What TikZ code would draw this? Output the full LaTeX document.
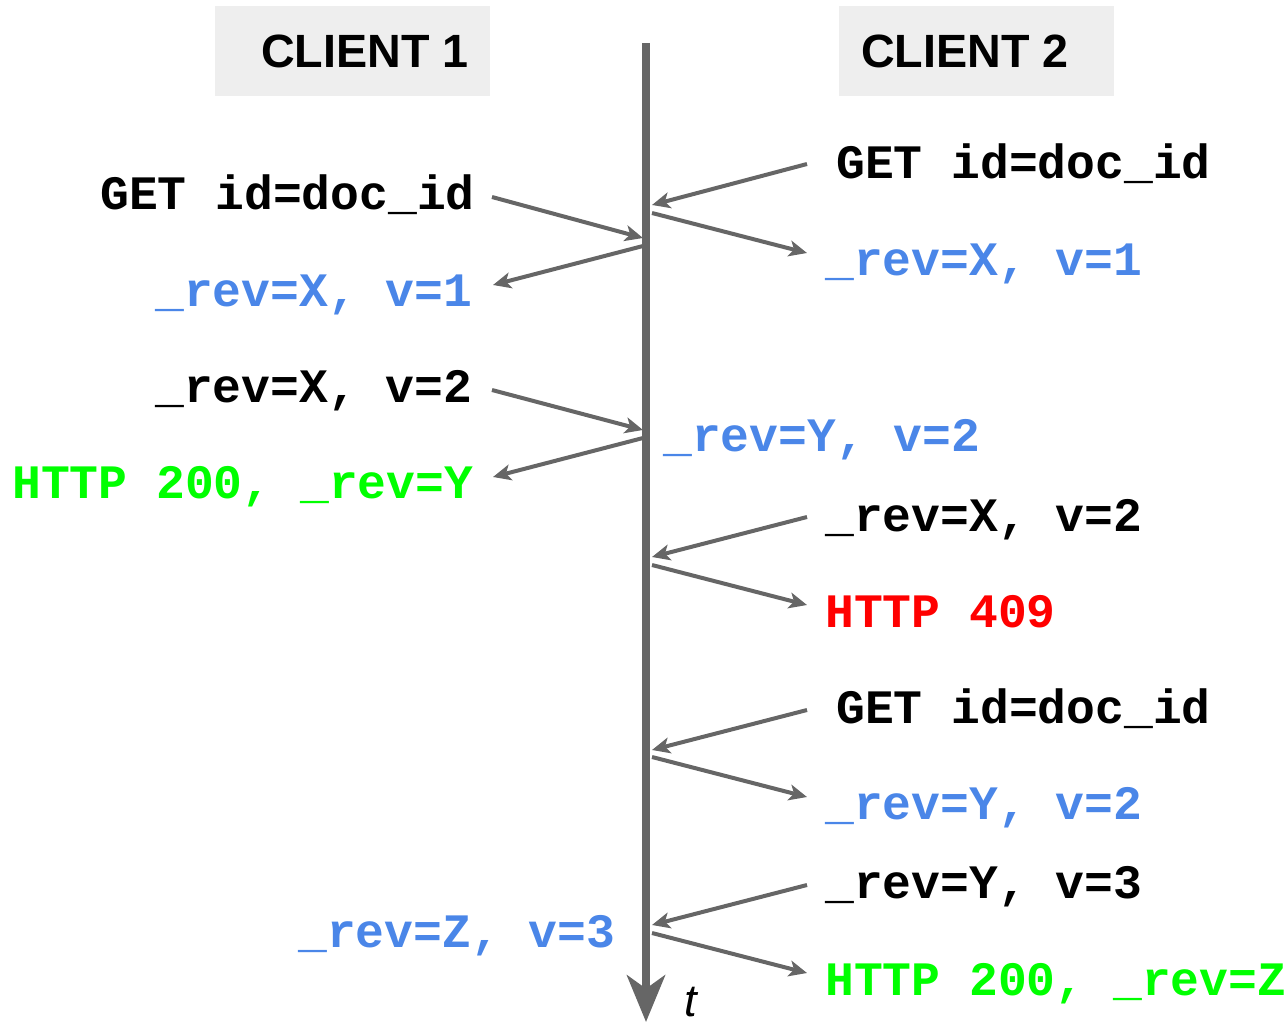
\documentclass[tikz,border=0pt]{standalone}
\usepackage{fontspec}
\usetikzlibrary{arrows.meta}
\newfontfamily\msgfont{Liberation Mono}[BoldFont={* Bold}]
\newfontfamily\hdrfont{Liberation Sans}[BoldFont={* Bold}]
\definecolor{lineg}{HTML}{666666}
\definecolor{hdrbg}{HTML}{EEEEEE}
\definecolor{revblue}{HTML}{4A86E8}
\definecolor{okgreen}{HTML}{00FF00}
\definecolor{errred}{HTML}{FF0000}
\tikzset{
  hdrbox/.style={fill=hdrbg, draw=none, minimum width=206.25pt, minimum height=67.5pt, inner sep=0pt},
  hdrtext/.style={font=\hdrfont\bfseries\fontsize{35}{40}\selectfont, inner sep=0pt},
  msg/.style={font=\msgfont\bfseries\fontsize{36}{40}\selectfont, inner sep=0pt, anchor=base west},
  req/.style={msg, text=black},
  rev/.style={msg, text=revblue},
  ok/.style={msg, text=okgreen},
  err/.style={msg, text=errred},
  flow/.style={draw=lineg, line width=3pt, -{Stealth[length=13.5pt, width=12pt, inset=3.5pt]}},
  timeline/.style={draw=lineg, line width=6pt, -{Stealth[length=35pt, width=28.5pt, inset=10pt]}}
}
\begin{document}
\begin{tikzpicture}[x=0.75pt, y=-0.75pt]
\useasboundingbox (0,0) rectangle (1287,1024);

% column headers
\node[hdrbox] (c1box) at (352.5,51) {};
\node[hdrtext] (c1) at (365,51) {CLIENT 1};
\node[hdrbox] (c2box) at (976.5,51) {};
\node[hdrtext] (c2) at (965,51) {CLIENT 2};

% time axis
\coordinate (ttop) at (646,43);
\coordinate (tbot) at (646,1022);
\draw[timeline] (ttop) -- (tbot);
\node[font=\hdrfont\itshape\fontsize{34}{40}\selectfont, inner sep=0pt, anchor=base west] (tlab) at (684,1016) {t};

% client 1 messages
\node[req] (l1) at (100,209) {GET id=doc\_id};
\node[rev] (l2) at (155,306) {\_rev=X, v=1};
\node[req] (l3) at (155,402) {\_rev=X, v=2};
\node[ok]  (l4) at (12,498) {HTTP 200, \_rev=Y};
\node[rev] (l5) at (298,947) {\_rev=Z, v=3};

% client 2 messages
\node[req] (r1) at (836,178) {GET id=doc\_id};
\node[rev] (r2) at (825,275) {\_rev=X, v=1};
\node[rev] (m1) at (663,451) {\_rev=Y, v=2};
\node[req] (r3) at (825,531) {\_rev=X, v=2};
\node[err] (r4) at (825,627) {HTTP 409};
\node[req] (r5) at (836,723) {GET id=doc\_id};
\node[rev] (r6) at (825,819) {\_rev=Y, v=2};
\node[req] (r7) at (825,898) {\_rev=Y, v=3};
\node[ok]  (r8) at (825,995) {HTTP 200, \_rev=Z};

% arrow end points beside the labels and on the axis
\coordinate (a1s) at (492,197); \coordinate (a1e) at (643,238);
\coordinate (a2s) at (643,246); \coordinate (a2e) at (493,285);
\coordinate (a3s) at (492,390); \coordinate (a3e) at (643,430);
\coordinate (a4s) at (643,438); \coordinate (a4e) at (493,477);

\coordinate (b1s) at (807,164); \coordinate (b1e) at (652,205);
\coordinate (b2s) at (652,213); \coordinate (b2e) at (807,253);
\coordinate (b3s) at (807,517); \coordinate (b3e) at (652,557);
\coordinate (b4s) at (652,565); \coordinate (b4e) at (807,605);
\coordinate (b5s) at (807,710); \coordinate (b5e) at (652,750);
\coordinate (b6s) at (652,757); \coordinate (b6e) at (807,797);
\coordinate (b7s) at (807,885); \coordinate (b7e) at (652,925);
\coordinate (b8s) at (652,933); \coordinate (b8e) at (807,973);

\foreach \p in {a1,a2,a3,a4,b1,b2,b3,b4,b5,b6,b7,b8}
  \draw[flow] (\p s) -- (\p e);
\end{tikzpicture}
\end{document}
